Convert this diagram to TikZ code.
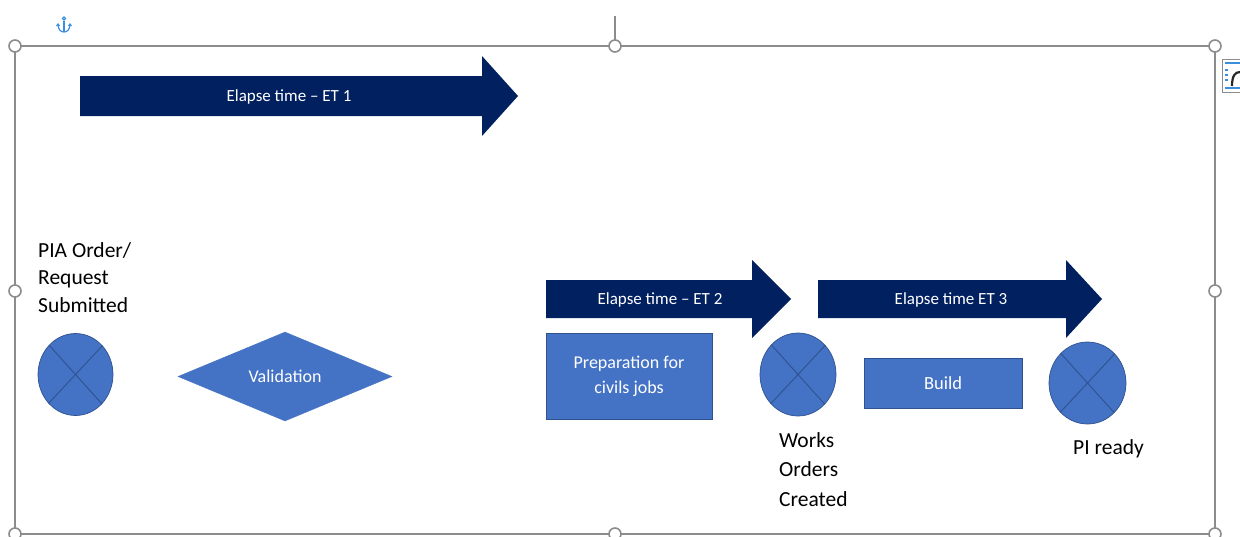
\documentclass[tikz,border=0pt]{standalone}
\usepackage{fontspec}
\setmainfont{Carlito}
\usetikzlibrary{shapes.geometric}
\definecolor{navy}{HTML}{002060}
\definecolor{fillblue}{HTML}{4472C4}
\definecolor{edgeblue}{HTML}{2F528F}
\definecolor{framegray}{HTML}{8C8C8C}
\definecolor{anchorblue}{HTML}{3A8EDC}
\tikzset{
  frameline/.style={draw=framegray, line width=1.4pt},
  handle/.style={circle, draw=framegray, fill=white, line width=1.6pt, minimum size=12pt, inner sep=0pt},
  arrowshape/.style={fill=navy},
  arrowtext/.style={text=white, font=\fontsize{17}{20}\selectfont, inner sep=0pt},
  junction/.style={ellipse, draw=edgeblue, fill=fillblue, line width=0.7pt, inner sep=0pt},
  xline/.style={draw=edgeblue, line width=0.9pt},
  procbox/.style={rectangle, draw=edgeblue, fill=fillblue, line width=0.7pt, inner sep=0pt, text=white, align=center, font=\fontsize{18}{25}\selectfont},
  decision/.style={diamond, fill=fillblue, draw=fillblue, inner sep=0pt, text=white, font=\fontsize{18}{22}\selectfont},
  label/.style={align=left, inner sep=0pt, text=black}
}
\begin{document}
\begin{tikzpicture}[x=1pt, y=-1pt]
\useasboundingbox (0,0) rectangle (1240,536);
% selection frame
\draw[frameline] (615,16) -- (615,46);
\draw[frameline] (15,46) rectangle (1215,534);
\foreach \hx/\hy [count=\i] in {15/46, 615/46, 1215/46, 15/291, 1215/291, 15/534, 615/534, 1215/534}
  \node[handle] (h\i) at (\hx,\hy) {};
% anchor icon
\begin{scope}[draw=anchorblue, line width=1.2pt]
  \draw (64,18.5) circle (1.6);
  \draw (64,20.5) -- (64,32);
  \draw (58,24) .. controls (58,30) and (61,32) .. (64,32) .. controls (67,32) and (70,30) .. (70,24);
  \draw (56.5,26) -- (58,24) -- (59.5,26);
  \draw (68.5,26) -- (70,24) -- (71.5,26);
\end{scope}
% layout options icon
\draw[draw=framegray, fill=white, line width=0.8pt] (1222.5,59) rectangle (1245,92);
\draw[anchorblue, line width=1.2pt] (1225,63) -- (1240,63);
\draw[anchorblue, line width=1.2pt] (1225,88) -- (1240,88);
\foreach \yy in {70,75,80} \draw[anchorblue, line width=1.2pt] (1225,\yy) -- (1228,\yy);
\draw[black!85, line width=2.2pt] (1232,86) .. controls (1232,76) and (1235,72) .. (1240,72);
% arrows
\fill[arrowshape] (80,76) -- (482,76) -- (482,56) -- (518,96) -- (482,136) -- (482,116) -- (80,116) -- cycle;
\node[arrowtext] (et1) at (289,97) {Elapse time – ET 1};
\fill[arrowshape] (546,280) -- (752,280) -- (752,260) -- (791,299) -- (752,338) -- (752,318) -- (546,318) -- cycle;
\node[arrowtext] (et2) at (660,300) {Elapse time – ET 2};
\fill[arrowshape] (818,280) -- (1066,280) -- (1066,260) -- (1102,299) -- (1066,338) -- (1066,318) -- (818,318) -- cycle;
\node[arrowtext] (et3) at (951,300) {Elapse time ET 3};
% junctions
\node[junction, minimum width=75pt, minimum height=82pt] (j1) at (75.5,374.5) {};
\node[junction, minimum width=76pt, minimum height=83pt] (j2) at (798,374.5) {};
\node[junction, minimum width=77pt, minimum height=82pt] (j3) at (1087.5,383) {};
\foreach \j in {j1,j2,j3} {
  \draw[xline] (\j.47.5) -- (\j.227.5);
  \draw[xline] (\j.132.5) -- (\j.312.5);
}
% diamond
\node[decision, minimum width=214pt, minimum height=89pt] (val) at (285,376.5) {Validation};
% boxes
\node[procbox, minimum width=166pt, minimum height=86pt] (prep) at (629,376) {Preparation for\\civils jobs};
\node[procbox, minimum width=158pt, minimum height=50pt, font=\fontsize{18.5}{22}\selectfont] (build) at (943,383) {Build};
% labels
\node[label, anchor=base west, font=\fontsize{21.5}{27.5}\selectfont] (pia) at (38,312) {PIA Order/\\Request\\Submitted};
\node[label, anchor=base west, font=\fontsize{21.5}{29.5}\selectfont] (wo) at (779,506) {Works\\Orders\\Created};
\node[label, anchor=base west, font=\fontsize{21.5}{26}\selectfont] (pir) at (1073,454) {PI ready};
\end{tikzpicture}
\end{document}
